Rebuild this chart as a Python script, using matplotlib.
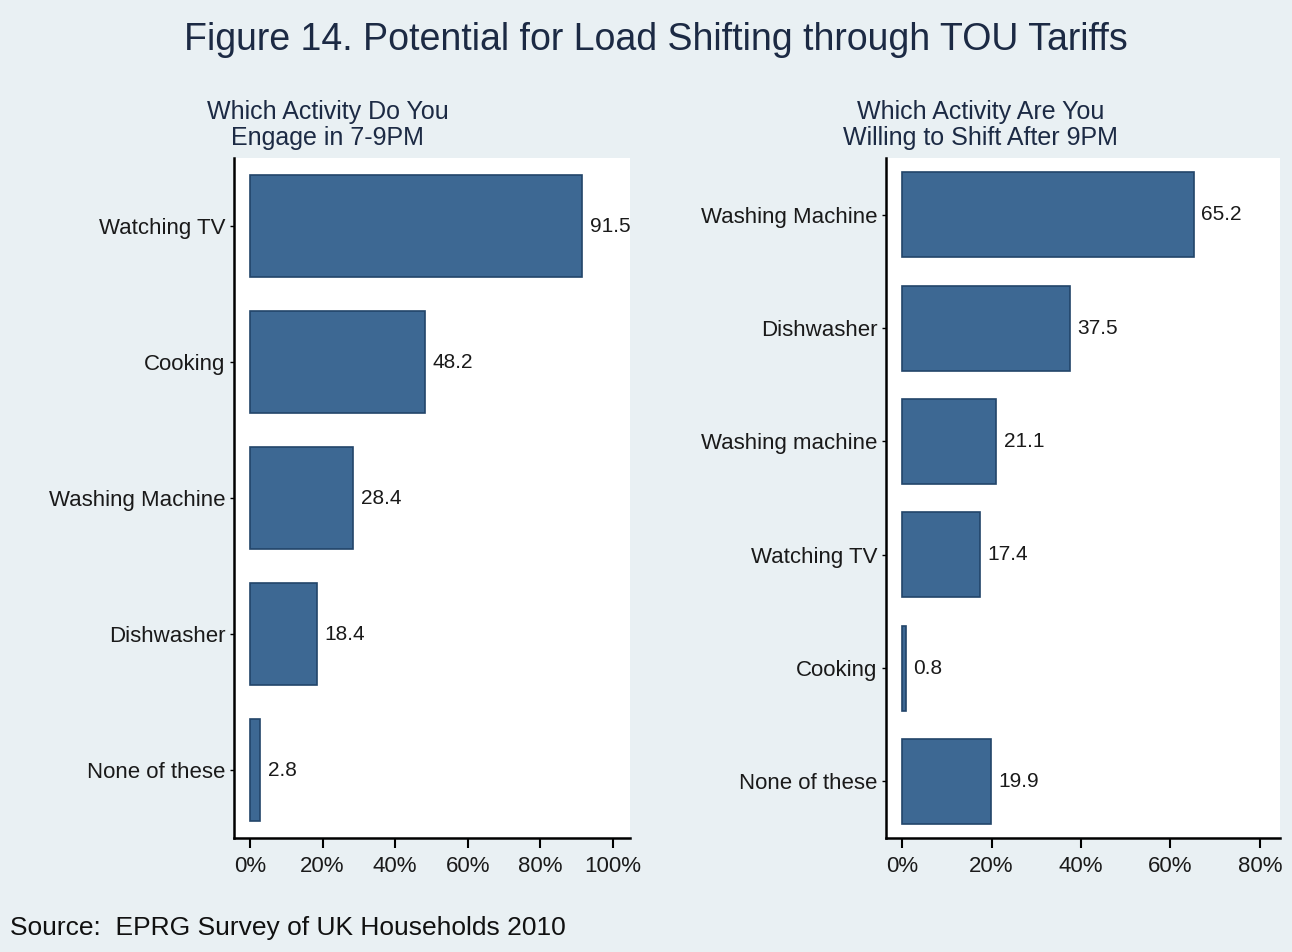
import matplotlib.pyplot as plt
from matplotlib.ticker import FuncFormatter

plt.rcParams['font.family'] = ['Liberation Sans', 'DejaVu Sans']

# Left panel: activities 7-9PM
left_labels = ["Watching TV", "Cooking", "Washing Machine", "Dishwasher", "None of these"]
left_values = [91.5, 48.2, 28.4, 18.4, 2.8]

# Right panel: activities willing to shift after 9PM
right_labels = ["Washing Machine", "Dishwasher", "Washing machine", "Watching TV",
                "Cooking", "None of these"]
right_values = [65.2, 37.5, 21.1, 17.4, 0.8, 19.9]

left_ticks = [0, 20, 40, 60, 80, 100]
right_ticks = [0, 20, 40, 60, 80]

bar_color = "#3d6893"
edge_color = "#22456a"
bg_color = "#e9f0f3"
text_color = "#1a1a1a"

fig = plt.figure(figsize=(12.92, 9.52), dpi=100, facecolor=bg_color)

W, H = 1292, 952


def make_axes(px_left, px_right, px_top, px_bottom):
    return fig.add_axes([px_left / W, 1 - px_bottom / H,
                         (px_right - px_left) / W, (px_bottom - px_top) / H])


def draw_panel(ax, labels, values, ticks, xlim, title, title_x):
    n = len(labels)
    ypos = list(range(n))
    ax.barh(ypos, values, height=0.75, color=bar_color, edgecolor=edge_color,
            linewidth=1.2)
    for y, v in zip(ypos, values):
        ax.text(v + xlim[1] * 0.02, y, f"{v:.1f}", va="center", ha="left",
                fontsize=15, color=text_color)
    ax.set_ylim(n - 0.5, -0.5)
    ax.set_xlim(*xlim)
    ax.set_yticks(ypos)
    ax.set_yticklabels(labels, fontsize=16, color=text_color)
    ax.set_xticks(ticks)
    ax.xaxis.set_major_formatter(FuncFormatter(lambda x, p: f"{x:.0f}%"))
    ax.tick_params(axis="x", labelsize=16, labelcolor=text_color, length=7,
                   width=1.5, pad=6)
    ax.tick_params(axis="y", length=3, width=1, pad=3)
    for s in ["top", "right"]:
        ax.spines[s].set_visible(False)
    for s in ["left", "bottom"]:
        ax.spines[s].set_linewidth(1.8)
    ax.set_facecolor("white")
    ax.set_title(title, fontsize=18, color="#1c2a44", pad=9, linespacing=1.12,
                 x=title_x, ha="center")


ax1 = make_axes(234, 630, 158, 838)
draw_panel(ax1, left_labels, left_values, left_ticks, (-4.4, 104.7),
           "Which Activity Do You\nEngage in 7-9PM", 0.237)

ax2 = make_axes(886, 1280, 158, 838)
draw_panel(ax2, right_labels, right_values, right_ticks, (-3.6, 84.5),
           "Which Activity Are You\nWilling to Shift After 9PM", 0.24)

fig.text(656 / W, 1 - 40 / H, "Figure 14. Potential for Load Shifting through TOU Tariffs",
         ha="center", va="center", fontsize=27, color="#1c2a44")
fig.text(10 / W, 1 - 928 / H, "Source:  EPRG Survey of UK Households 2010",
         ha="left", va="center", fontsize=19, color="#111111")

fig.savefig("out.png", dpi=100, facecolor=bg_color)
